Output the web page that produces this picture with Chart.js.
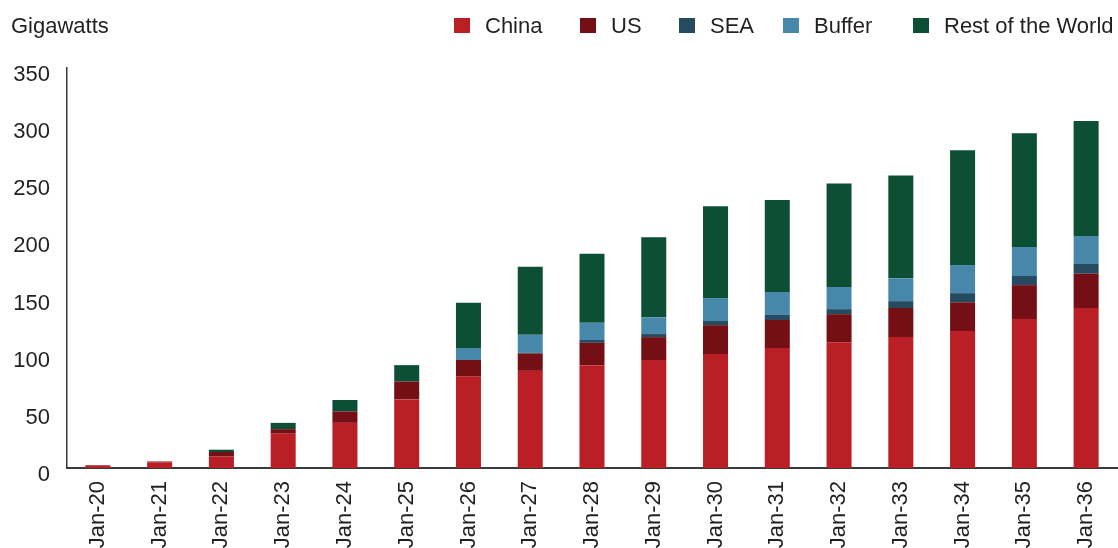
<!DOCTYPE html>
<html>
<head>
<meta charset="utf-8">
<script src="https://cdn.jsdelivr.net/npm/chart.js@4"></script>
<style>
    html, body { margin: 0; padding: 0; background: #fff; overflow: hidden; }
    #wrap { position: relative; width: 1118px; height: 552px; }
    #unit { position: absolute; left: 11px; top: 13px; font: 22px "Liberation Sans", Arial, sans-serif; color: #231f20; }
    #legend { position: absolute; top: 13px; left: 0; width: 1118px; height: 26px; font: 22px "Liberation Sans", Arial, sans-serif; color: #231f20; }
    .item { position: absolute; top: 0; white-space: nowrap; }
    .box { position: absolute; top: 5px; left: 0; width: 16px; height: 15px; }
    .label { position: absolute; left: 31px; top: 0; }
</style>
</head>
<body>
<div id="wrap">
    <canvas id="chart" width="1118" height="552"></canvas>
    <div id="unit">Gigawatts</div>
    <div id="legend"></div>
</div>
<script>
const labels = ['Jan-20', 'Jan-21', 'Jan-22', 'Jan-23', 'Jan-24', 'Jan-25', 'Jan-26', 'Jan-27', 'Jan-28',
    'Jan-29', 'Jan-30', 'Jan-31', 'Jan-32', 'Jan-33', 'Jan-34', 'Jan-35', 'Jan-36'];

const china = [2, 5, 10, 30, 39.5, 60, 80, 85, 90, 94.5, 99.7, 105, 110, 114.6, 119.8, 130.4, 140];
const us = [0.5, 0.7, 4, 4, 10, 15.6, 14.5, 15, 19.5, 20, 25.3, 24.5, 24.6, 25.4, 25.2, 29.6, 30];
const sea = [0, 0, 0, 0, 0, 0, 0, 1, 2.5, 2.7, 3.6, 4.5, 4.4, 6, 8, 8, 8.5];
const buffer = [0, 0, 0, 0, 0, 0, 10.5, 15.5, 15, 14.7, 20.1, 20, 19.4, 20, 24.6, 25.4, 24.5];
const restOfWorld = [0, 0, 2, 5.5, 10, 14.4, 39.5, 59.5, 60.5, 70, 80.3, 80.5, 90.6, 90, 100.4, 99.6, 100.6];

const yTicks = [0, 50, 100, 150, 200, 250, 300, 350];

const series = [
    { name: 'China', data: china, color: '#b91f24' },
    { name: 'US', data: us, color: '#740f16' },
    { name: 'SEA', data: sea, color: '#264a5f' },
    { name: 'Buffer', data: buffer, color: '#4788aa' },
    { name: 'Rest of the World', data: restOfWorld, color: '#0d4f35' }
];

// legend drawn in html so the spacing can follow the original
const legendX = [454, 580, 679, 783, 913];
const legendEl = document.getElementById('legend');
series.forEach(function (s, i) {
    const item = document.createElement('div');
    item.className = 'item';
    item.style.left = legendX[i] + 'px';
    item.innerHTML = '<span class="box" style="background:' + s.color + '"></span><span class="label">' + s.name + '</span>';
    legendEl.appendChild(item);
});

Chart.defaults.font.family = '"Liberation Sans", Arial, sans-serif';
Chart.defaults.color = '#231f20';

new Chart(document.getElementById('chart'), {
    type: 'bar',
    data: {
        labels: labels,
        datasets: series.map(s => ({
            label: s.name,
            data: s.data,
            backgroundColor: s.color,
            borderWidth: 0,
            barPercentage: 0.405,
            categoryPercentage: 1
        }))
    },
    options: {
        responsive: false,
        animation: false,
        layout: { padding: { top: 68, left: 10, right: 1, bottom: 0 } },
        plugins: { legend: { display: false }, tooltip: { enabled: false } },
        scales: {
            x: {
                stacked: true,
                grid: { display: false, drawTicks: false },
                border: { display: true, color: '#3a3a3a', width: 2 },
                ticks: { font: { size: 22 }, maxRotation: 90, minRotation: 90, padding: 13, autoSkip: false },
                afterFit: function (scale) {
                    scale.height = 84;
                    // rotated labels should not pull the plot in from the right
                    scale.paddingLeft = 0;
                    scale.paddingRight = 0;
                }
            },
            y: {
                stacked: true,
                min: 0,
                max: 350,
                grid: { display: false, drawTicks: false },
                border: { display: true, color: '#3a3a3a', width: 1.5 },
                afterBuildTicks: function (scale) { scale.ticks = yTicks.map(v => ({ value: v })); },
                ticks: { font: { size: 22 }, padding: 17, labelOffset: 7 },
                afterFit: function (scale) { scale.width = 57; }
            }
        }
    }
});
</script>
</body>
</html>
